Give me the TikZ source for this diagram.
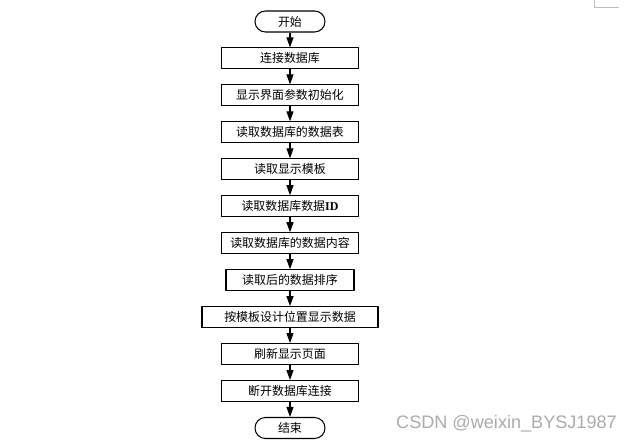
\documentclass[tikz,border=0pt]{standalone}
\usepackage{fontspec}
\setmainfont{Liberation Serif}
\newfontfamily\cjk{Noto Sans CJK SC}
\newfontfamily\wmfont{Liberation Sans}
\usepackage{tikz}
\usetikzlibrary{arrows.meta,positioning}
\definecolor{cornergray}{HTML}{BDBDBD}
\definecolor{wmgray}{HTML}{ABABAB}

\begin{document}
\begin{tikzpicture}[
  x=0.2mm, y=-0.2mm,
  font=\cjk\fontsize{6.8}{8}\selectfont,
  node distance=2.98mm,
  box/.style={draw, line width=0.6pt, minimum width=27.4mm, minimum height=4.2mm, inner sep=0pt, align=center},
  term/.style={box, minimum width=14mm, rounded corners=2.1mm},
  arr/.style={-{Triangle[length=2mm, width=1.4mm]}, line width=0.6pt}
]
\useasboundingbox (0,0) rectangle (638,444);
\node[term] (start) at (290,21.5) {开始};
\node[box, below=of start] (conn) {连接数据库};
\node[box, below=of conn] (init) {显示界面参数初始化};
\node[box, below=of init] (table) {读取数据库的数据表};
\node[box, below=of table] (tmpl) {读取显示模板};
\node[box, below=of tmpl] (rid) {读取数据库数据{\rmfamily\bfseries ID}};
\node[box, below=of rid] (content) {读取数据库的数据内容};
\node[box, minimum width=25.6mm, below=of content] (sort) {读取后的数据排序};
\node[box, minimum width=35.2mm, below=of sort] (show) {按模板设计位置显示数据};
\node[box, below=of show] (refresh) {刷新显示页面};
\node[box, below=of refresh] (close) {断开数据库连接};
\node[term, below=of close] (stop) {结束};
\draw[arr] (start) -- (conn);
\draw[arr] (conn) -- (init);
\draw[arr] (init) -- (table);
\draw[arr] (table) -- (tmpl);
\draw[arr] (tmpl) -- (rid);
\draw[arr] (rid) -- (content);
\draw[arr] (content) -- (sort);
\draw[arr] (sort) -- (show);
\draw[arr] (show) -- (refresh);
\draw[arr] (refresh) -- (close);
\draw[arr] (close) -- (stop);
% page corner mark and watermark
\draw[cornergray, line width=0.5pt] (594,0) -- (594,7) -- (619,7);
\node[wmgray, font=\wmfont\fontsize{10.3}{12}\selectfont, anchor=east] (wm) at (623,424) {CSDN @weixin\_BYSJ1987};
\end{tikzpicture}
\end{document}
